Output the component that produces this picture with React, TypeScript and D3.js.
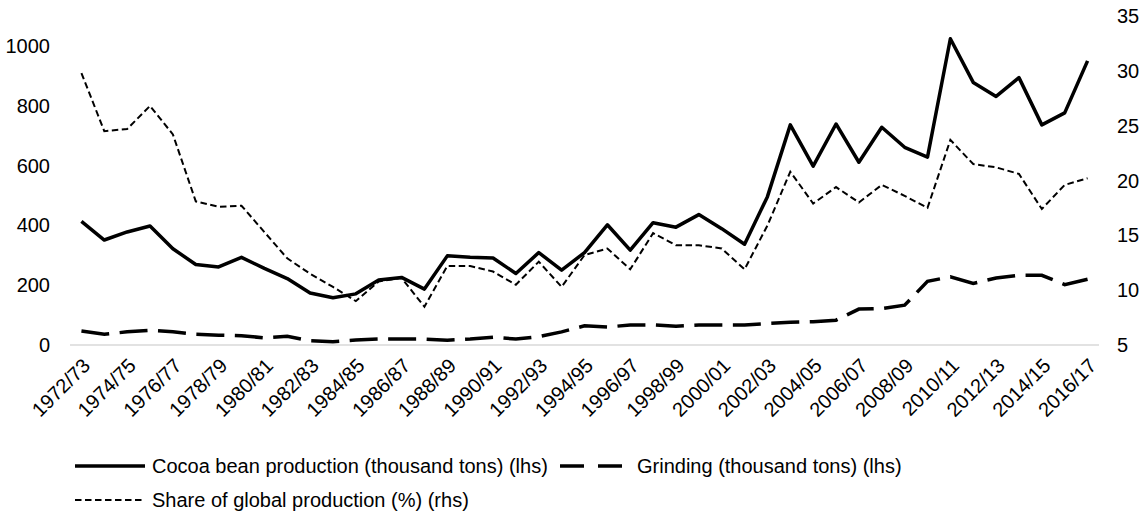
import React from "react";
import * as d3 from "d3";

const seasons = [
  "1972/73","1973/74","1974/75","1975/76","1976/77","1977/78","1978/79","1979/80","1980/81","1981/82",
  "1982/83","1983/84","1984/85","1985/86","1986/87","1987/88","1988/89","1989/90","1990/91","1991/92",
  "1992/93","1993/94","1994/95","1995/96","1996/97","1997/98","1998/99","1999/00","2000/01","2001/02",
  "2002/03","2003/04","2004/05","2005/06","2006/07","2007/08","2008/09","2009/10","2010/11","2011/12",
  "2012/13","2013/14","2014/15","2015/16","2016/17",
];

const production = [
  413, 351, 378, 398, 322, 269, 261, 293, 256, 222,
  174, 158, 171, 217, 226, 187, 298, 293, 291, 239,
  309, 250, 309, 402, 317, 409, 394, 436, 389, 337,
  496, 736, 598, 739, 611, 728, 661, 628, 1024, 878,
  831, 894, 736, 776, 950,
];

const grinding = [
  47, 36, 44, 49, 44, 36, 33, 31, 24, 29,
  14, 11, 17, 20, 20, 20, 16, 20, 26, 20,
  28, 44, 64, 60, 67, 67, 63, 67, 67, 67,
  72, 76, 78, 83, 120, 122, 133, 213, 228, 206,
  224, 233, 233, 202, 220,
];

const share = [
  29.8, 24.5, 24.7, 26.8, 24.2, 18.1, 17.6, 17.7, 15.3, 12.9,
  11.5, 10.3, 9.0, 10.8, 11.1, 8.5, 12.2, 12.2, 11.7, 10.5,
  12.6, 10.3, 13.2, 13.8, 11.9, 15.2, 14.1, 14.1, 13.8, 11.9,
  15.9, 20.8, 17.9, 19.4, 18.0, 19.6, 18.6, 17.5, 23.7, 21.5,
  21.2, 20.6, 17.4, 19.6, 20.2,
];

const leftTicks = [0, 200, 400, 600, 800, 1000];
const rightTicks = [5, 10, 15, 20, 25, 30, 35];

const W = 1144;
const H = 517;
const FONT = "'Liberation Sans', Arial, sans-serif";
const FS = 20;

export default function App() {
  const left = 70;
  const right = 1099;
  const top = 16;
  const bottom = 345;

  const x = d3.scalePoint<string>().domain(seasons).range([left, right]).padding(0.5);
  const yL = d3.scaleLinear().domain([0, 1100]).range([bottom, top]);
  const yR = d3.scaleLinear().domain([5, 35]).range([bottom, top]);

  const lineL = d3.line<number>().x((_, i) => x(seasons[i])!).y((d) => yL(d));
  const lineR = d3.line<number>().x((_, i) => x(seasons[i])!).y((d) => yR(d));

  return (
    <svg width={W} height={H} style={{ position: "absolute", left: 0, top: 0, background: "#fff" }} fontFamily={FONT}>
      <rect x={0} y={0} width={W} height={H} fill="#fff" />
      <line x1={left} x2={right} y1={yL(0)} y2={yL(0)} stroke="#d9d9d9" strokeWidth={1.5} />
      {leftTicks.map((t) => (
        <text key={"l" + t} x={50} y={yL(t)} dy="0.35em" textAnchor="end" fontSize={FS} fill="#000">
          {t}
        </text>
      ))}
      {rightTicks.map((t) => (
        <text key={"r" + t} x={1117} y={yR(t)} dy="0.35em" textAnchor="start" fontSize={FS} fill="#000">
          {t}
        </text>
      ))}
      {seasons.map((s, i) =>
        i % 2 === 0 ? (
          <text
            key={s}
            transform={`translate(${x(s)! + 5},${362}) rotate(-45)`}
            textAnchor="end"
            dy="0.35em"
            fontSize={FS}
            fill="#000"
          >
            {s}
          </text>
        ) : null
      )}
      <path d={lineR(share)!} fill="none" stroke="#000" strokeWidth={2} strokeDasharray="6.5,3.5" />
      <path d={lineL(grinding)!} fill="none" stroke="#000" strokeWidth={3.5} strokeDasharray="28,10.5" />
      <path d={lineL(production)!} fill="none" stroke="#000" strokeWidth={3.5} strokeLinejoin="round" />

      {/* legend */}
      <line x1={75} x2={145} y1={466} y2={466} stroke="#000" strokeWidth={3.5} />
      <text x={152} y={466} dy="0.35em" fontSize={FS} fill="#000">Cocoa bean production (thousand tons) (lhs)</text>
      <line x1={560} x2={630} y1={466} y2={466} stroke="#000" strokeWidth={3.5} strokeDasharray="24,14" />
      <text x={637} y={466} dy="0.35em" fontSize={FS} fill="#000">Grinding (thousand tons) (lhs)</text>
      <line x1={75} x2={145} y1={500} y2={500} stroke="#000" strokeWidth={2} strokeDasharray="6.5,3.5" />
      <text x={152} y={500} dy="0.35em" fontSize={FS} fill="#000">Share of global production (%) (rhs)</text>
    </svg>
  );
}
